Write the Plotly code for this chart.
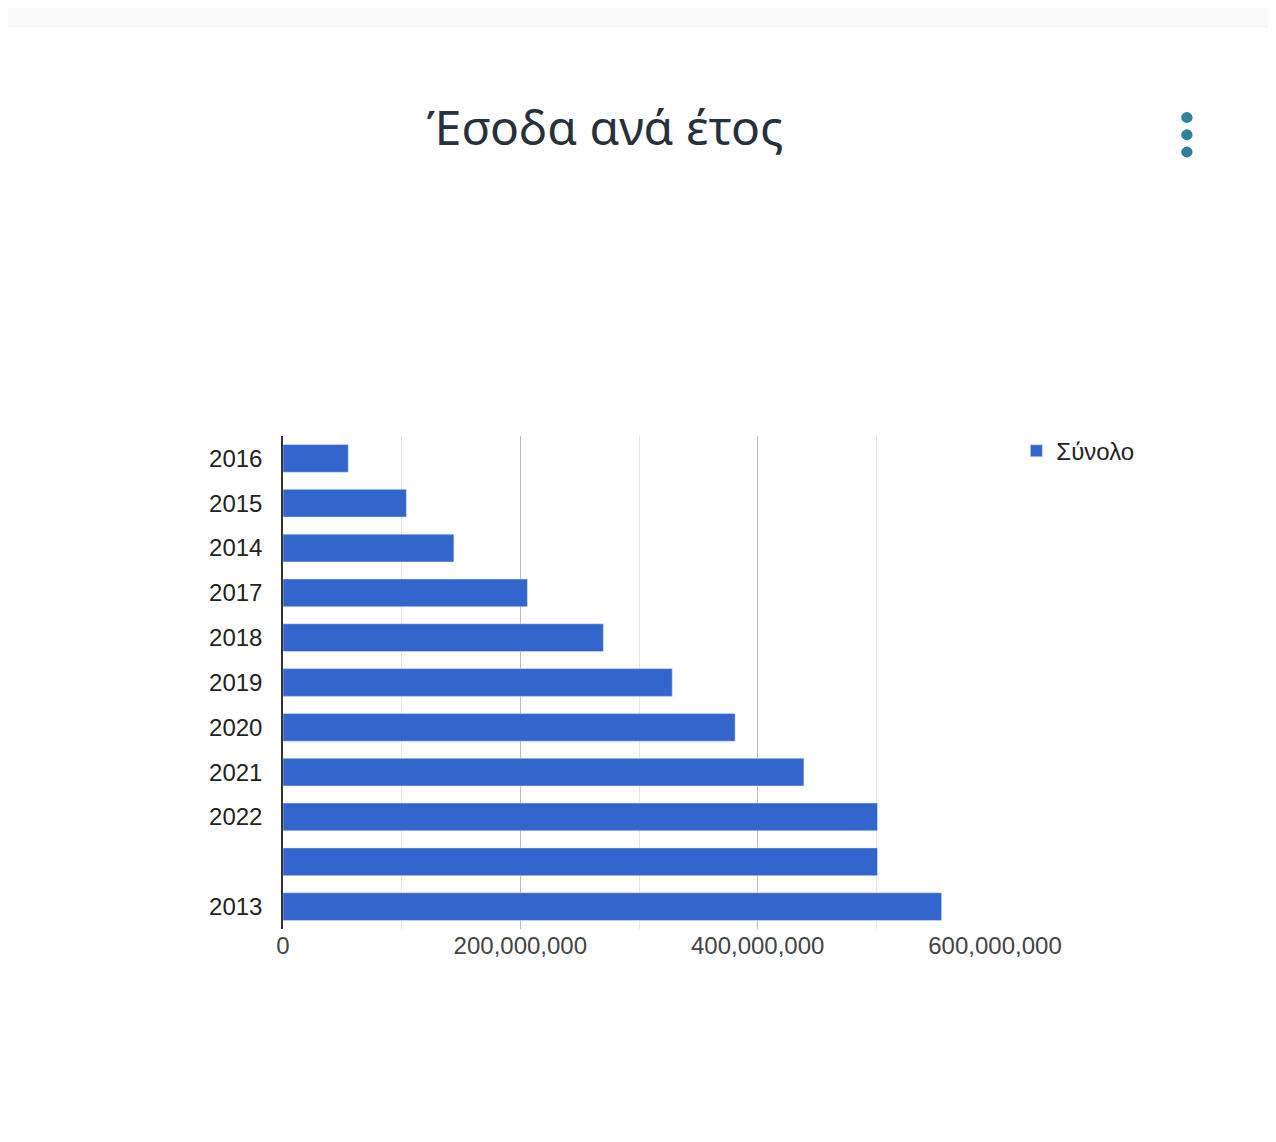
import plotly.graph_objects as go

# data (top to bottom)
years = ["2016", "2015", "2014", "2017", "2018", "2019", "2020", "2021", "2022", " ", "2013"]
totals = [55e6, 104e6, 144e6, 206e6, 270e6, 328e6, 381e6, 439e6, 501e6, 501e6, 555e6]

fig = go.Figure()
fig.add_trace(go.Bar(
    y=years, x=totals, orientation="h", name="Σύνολο",
    marker=dict(color="#3366cc"),
))

fig.update_layout(
    width=1276, height=1142,
    paper_bgcolor="#fafafa", plot_bgcolor="white",
    margin=dict(l=275, r=289, t=428, b=221),
    font=dict(family="Liberation Sans, Arial", size=24, color="#222"),
    title=dict(text="Έσοδα ανά έτος", x=0.468, xanchor="center", y=0.895, yanchor="middle",
               font=dict(family="Noto Sans", size=48, color="#27303d")),
    bargap=0.38,
    showlegend=True,
    legend=dict(x=1.03, y=1.015, xanchor="left", yanchor="top",
                font=dict(size=24, color="#222"), bgcolor="rgba(0,0,0,0)"),
    xaxis=dict(range=[0, 600e6], dtick=200e6, tickformat=",", showgrid=True,
               gridcolor="#bbbbbb", zeroline=False, ticks="",
               tickfont=dict(color="#444", size=24),
               minor=dict(dtick=100e6, showgrid=True, gridcolor="#e6e6e6")),
    yaxis=dict(autorange="reversed", showline=True, linecolor="#333", linewidth=1.5,
               ticks="", ticklabelstandoff=14),
)

# white card
fig.add_shape(type="path", xref="paper", yref="paper", layer="below",
              path="M -0.4 1.83 L 1.42 1.83 L 1.42 -0.55 L -0.4 -0.55 Z",
              fillcolor="white", line=dict(color="#f0f0f0", width=1))
# menu dots
for yy in [1.646, 1.611, 1.576]:
    fig.add_shape(type="circle", xref="paper", yref="paper",
                  x0=1.2615, x1=1.2775, y0=yy - 0.011, y1=yy + 0.011,
                  fillcolor="#2e7fa0", line=dict(width=0))

fig.write_html("out.html")
